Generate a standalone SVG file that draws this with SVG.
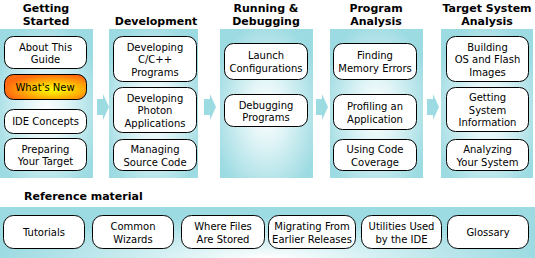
<svg xmlns="http://www.w3.org/2000/svg" width="535" height="258" viewBox="0 0 535 258">
<defs>
<radialGradient id="pg" cx="0.5" cy="0.55" r="0.6">
<stop offset="0" stop-color="#FFFFFF"/>
<stop offset="0.35" stop-color="#E2F5F7"/>
<stop offset="1" stop-color="#9DDBE2"/>
</radialGradient>
<radialGradient id="bg" cx="0.5" cy="1" r="0.5" gradientTransform="translate(0.5,1) scale(1,1.6) translate(-0.5,-1)">
<stop offset="0" stop-color="#FFFFFF"/>
<stop offset="0.4" stop-color="#D4F0F3"/>
<stop offset="1" stop-color="#9DDBE2"/>
</radialGradient>
<radialGradient id="og" cx="0.6" cy="0.6" r="0.6">
<stop offset="0" stop-color="#FFFF00"/>
<stop offset="0.4" stop-color="#FFCC00"/>
<stop offset="1" stop-color="#FF6A10"/>
</radialGradient>
<polygon id="arr" points="0,5 6,5 6,0 12,13 6,26 6,21 0,21"/>
</defs>
<style>
.h{font-family:"DejaVu Sans",Verdana,sans-serif;font-size:11px;font-weight:bold;fill:#000;text-anchor:middle}
.t{font-family:"DejaVu Sans",Verdana,sans-serif;font-size:10px;fill:#000;text-anchor:middle}
.n{fill:#fff;stroke:#000;stroke-width:1}
.p{fill:url(#pg)}
.a{fill:#9DDBE2}
</style>
<rect width="535" height="258" fill="#fff"/>
<!-- panels -->
<rect class="p" x="0" y="29" width="93" height="149"/>
<rect class="p" x="109" y="29" width="89" height="149"/>
<rect class="p" x="220" y="29" width="93" height="149"/>
<rect class="p" x="330" y="29" width="93" height="149"/>
<rect class="p" x="441" y="29" width="92" height="149"/>
<rect x="0" y="207" width="535" height="51" fill="url(#bg)"/>
<!-- headings -->
<text class="h" x="46" y="12">Getting</text>
<text class="h" x="46" y="25">Started</text>
<text class="h" x="156" y="25">Development</text>
<text class="h" x="266" y="12">Running &amp;</text>
<text class="h" x="266" y="25">Debugging</text>
<text class="h" x="376" y="12">Program</text>
<text class="h" x="376" y="25">Analysis</text>
<text class="h" x="487" y="12">Target System</text>
<text class="h" x="487" y="25">Analysis</text>
<text class="h" x="24" y="200" style="text-anchor:start">Reference material</text>
<!-- connectors -->
<g id="connectors">
<use href="#arr" class="a" x="97" y="94"/>
<use href="#arr" class="a" x="204" y="94"/>
<use href="#arr" class="a" x="316" y="94"/>
<use href="#arr" class="a" x="427" y="94"/>
</g>
<!-- column 1 -->
<g id="about"><rect class="n" x="4.5" y="36.5" width="82" height="32" rx="9"/><text class="t" x="45.5" y="50.5">About This</text><text class="t" x="45.5" y="63">Guide</text></g>
<g id="whatsnew"><rect x="4.5" y="74.5" width="82" height="25" rx="9" fill="url(#og)" stroke="#000"/><text class="t" x="45" y="90.5">What's New</text></g>
<g id="ideconcepts"><rect class="n" x="4.5" y="109.5" width="82" height="24" rx="9"/><text class="t" x="45.5" y="125">IDE Concepts</text></g>
<g id="preparing"><rect class="n" x="4.5" y="138.5" width="82" height="32" rx="9"/><text class="t" x="45.5" y="152.5">Preparing</text><text class="t" x="45.5" y="165">Your Target</text></g>
<!-- column 2 -->
<g id="devc"><rect class="n" x="113.5" y="36.5" width="83" height="45" rx="9"/><text class="t" x="155" y="50.5">Developing</text><text class="t" x="155" y="63">C/C++</text><text class="t" x="155" y="75.5">Programs</text></g>
<g id="devphoton"><rect class="n" x="113.5" y="87.5" width="83" height="45" rx="9"/><text class="t" x="155" y="101.5">Developing</text><text class="t" x="155" y="114">Photon</text><text class="t" x="155" y="126.5">Applications</text></g>
<g id="managing"><rect class="n" x="113.5" y="139.5" width="83" height="31" rx="9"/><text class="t" x="155" y="153">Managing</text><text class="t" x="155" y="165.5">Source Code</text></g>
<!-- column 3 -->
<g id="launch"><rect class="n" x="224.5" y="43.5" width="83" height="36" rx="9"/><text class="t" x="266" y="59">Launch</text><text class="t" x="266" y="71.5">Configurations</text></g>
<g id="debugging"><rect class="n" x="224.5" y="94.5" width="83" height="32" rx="9"/><text class="t" x="266" y="108.5">Debugging</text><text class="t" x="266" y="121">Programs</text></g>
<!-- column 4 -->
<g id="memory"><rect class="n" x="333.5" y="43.5" width="83" height="36" rx="9"/><text class="t" x="375" y="59">Finding</text><text class="t" x="375" y="71.5">Memory Errors</text></g>
<g id="profiling"><rect class="n" x="333.5" y="94.5" width="83" height="35" rx="9"/><text class="t" x="375" y="110">Profiling an</text><text class="t" x="375" y="122.5">Application</text></g>
<g id="coverage"><rect class="n" x="333.5" y="139.5" width="83" height="31" rx="9"/><text class="t" x="375" y="153">Using Code</text><text class="t" x="375" y="165.5">Coverage</text></g>
<!-- column 5 -->
<g id="building"><rect class="n" x="446.5" y="36.5" width="82" height="45" rx="9"/><text class="t" x="487.5" y="50.5">Building</text><text class="t" x="487.5" y="63">OS and Flash</text><text class="t" x="487.5" y="75.5">Images</text></g>
<g id="sysinfo"><rect class="n" x="446.5" y="87.5" width="82" height="44" rx="9"/><text class="t" x="487.5" y="101">Getting</text><text class="t" x="487.5" y="113.5">System</text><text class="t" x="487.5" y="126">Information</text></g>
<g id="analyzing"><rect class="n" x="446.5" y="139.5" width="82" height="31" rx="9"/><text class="t" x="487.5" y="153">Analyzing</text><text class="t" x="487.5" y="165.5">Your System</text></g>
<!-- reference -->
<g id="tutorials"><rect class="n" x="3.5" y="215.5" width="81" height="33" rx="10"/><text class="t" x="44" y="236">Tutorials</text></g>
<g id="wizards"><rect class="n" x="92.5" y="215.5" width="81" height="33" rx="10"/><text class="t" x="133" y="230">Common</text><text class="t" x="133" y="242.5">Wizards</text></g>
<g id="files"><rect class="n" x="181.5" y="215.5" width="83" height="33" rx="10"/><text class="t" x="223" y="230">Where Files</text><text class="t" x="223" y="242.5">Are Stored</text></g>
<g id="migrating"><rect class="n" x="268.5" y="215.5" width="87" height="33" rx="10"/><text class="t" x="312" y="230">Migrating From</text><text class="t" x="312" y="242.5">Earlier Releases</text></g>
<g id="utilities"><rect class="n" x="361.5" y="215.5" width="80" height="33" rx="10"/><text class="t" x="401.5" y="230">Utilities Used</text><text class="t" x="401.5" y="242.5">by the IDE</text></g>
<g id="glossary"><rect class="n" x="447.5" y="215.5" width="81" height="33" rx="10"/><text class="t" x="488" y="236">Glossary</text></g>
</svg>
